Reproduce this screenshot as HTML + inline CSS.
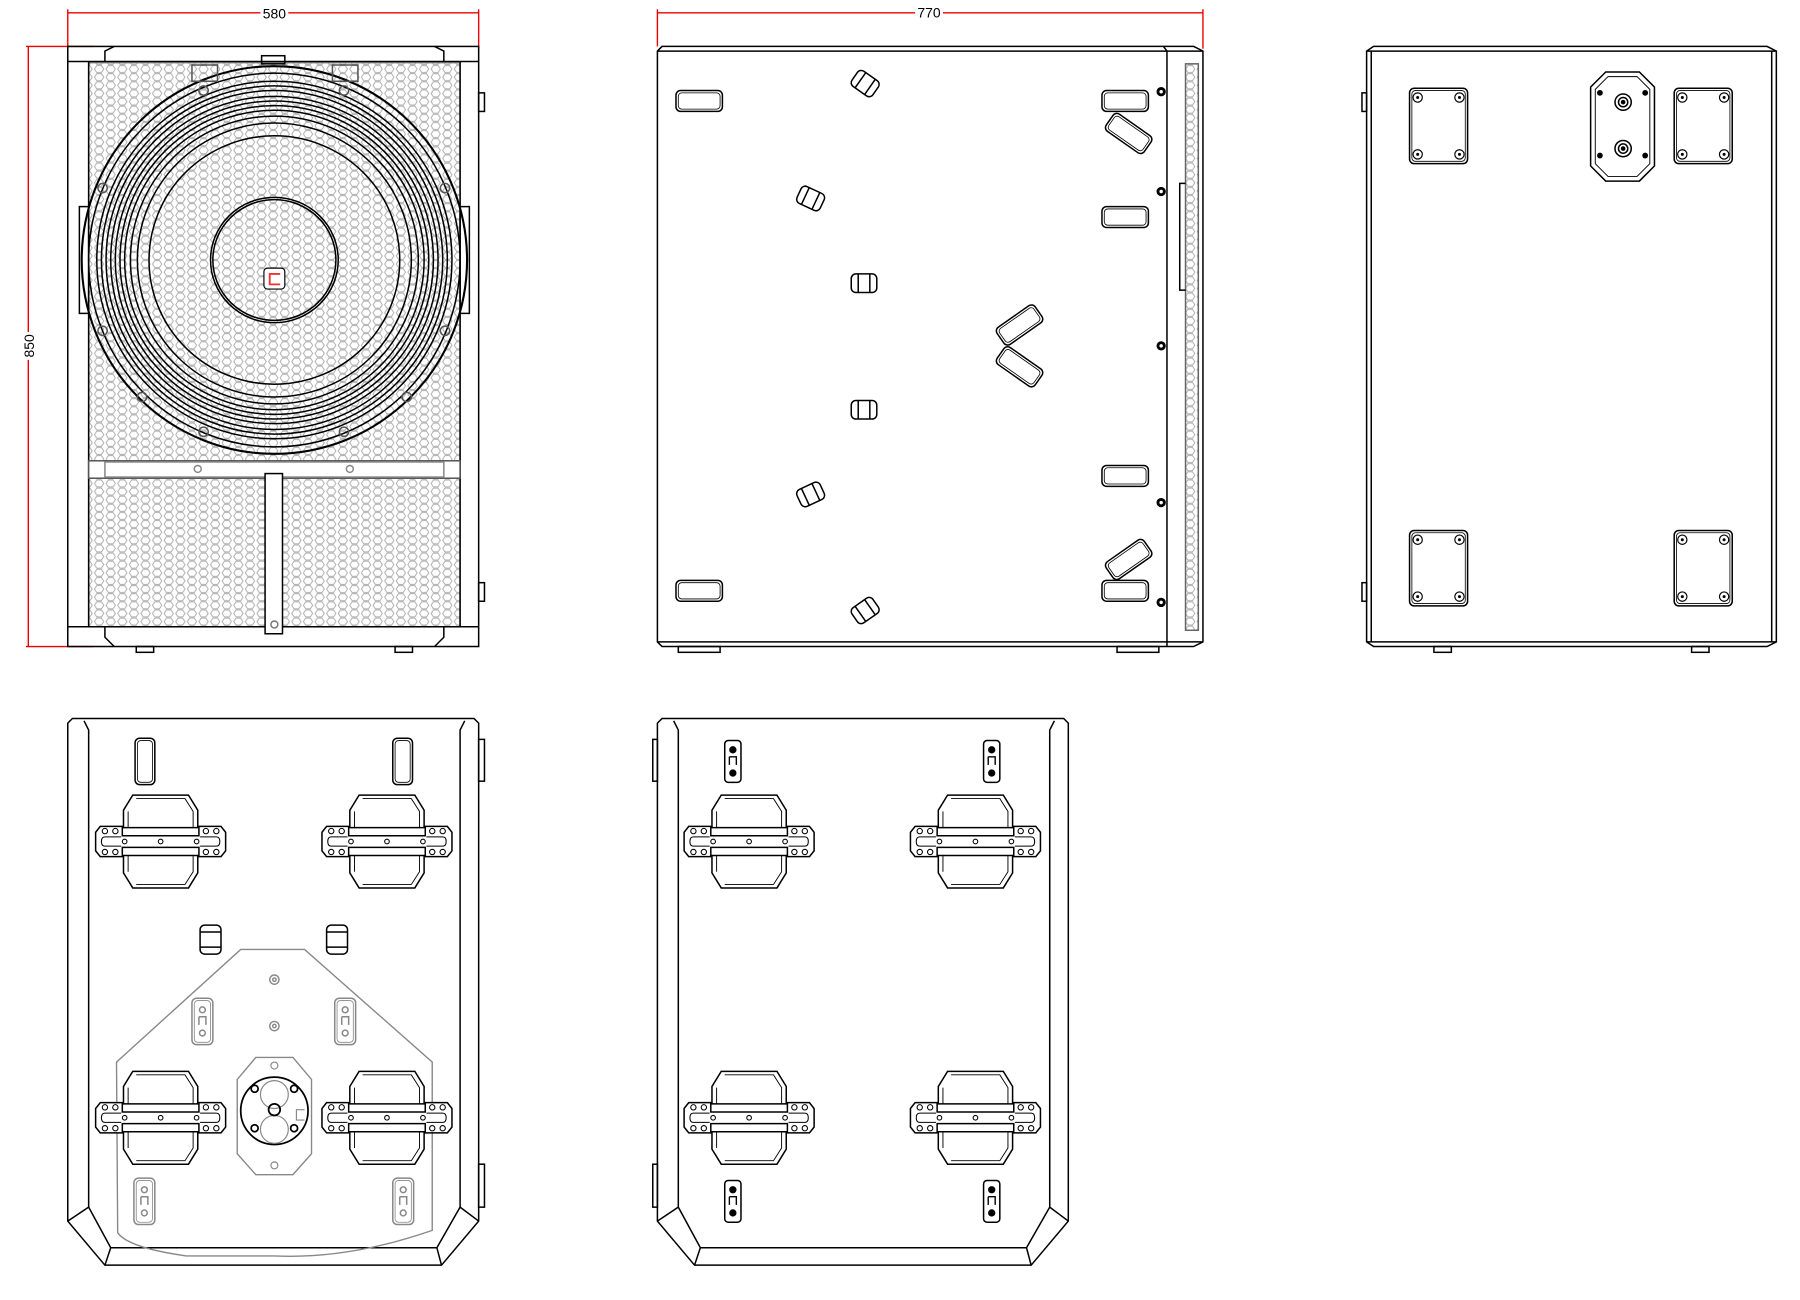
<!DOCTYPE html>
<html><head><meta charset="utf-8"><style>html,body{margin:0;padding:0;background:#fff}svg{display:block}</style></head><body>
<svg width="1800" height="1300" viewBox="0 0 1550 1120" xmlns="http://www.w3.org/2000/svg" font-family="Liberation Sans, sans-serif">
<defs>
<pattern id="hex" width="10" height="7" patternUnits="userSpaceOnUse">
<path d="M1,3.5 L3,0.5 L7,0.5 L9,3.5 L7,6.5 L3,6.5 Z" fill="none" stroke="#aaa" stroke-width="0.8"/>
</pattern>
<g id="plate" fill="#fff" stroke="#000" stroke-width="1.3">
<path d="M-24,-40 L24,-40 L32,-27 L32,-12 L-32,-12 L-32,-27 Z"/><path d="M-21,-37 L21,-37 L28,-26 L28,-12 M-28,-12 L-28,-26 Z" fill="none" stroke-width="0.8"/>
<path d="M-24,40 L24,40 L32,27 L32,12 L-32,12 L-32,27 Z"/><path d="M-21,37 L21,37 L28,26 L28,12 M-28,12 L-28,26 Z" fill="none" stroke-width="0.8"/>
<path d="M-52,-13 L-33,-13 L-33,-5 L33,-5 L33,-13 L52,-13 L56,-8 L56,8 L52,13 L33,13 L33,5 L-33,5 L-33,13 L-52,13 L-56,8 L-56,-8 Z"/>
<path d="M-48,-4 L-34,-4 M-48,-4 Q-51,-4 -51,0 Q-51,4 -48,4 L-34,4 M48,-4 L34,-4 M48,-4 Q51,-4 51,0 Q51,4 48,4 L34,4" fill="none" stroke-width="0.9"/>
<g stroke-width="0.9"><circle cx="-31" cy="0" r="2"/><circle cx="0" cy="0" r="2"/><circle cx="31" cy="0" r="2"/>
<circle cx="-48" cy="-9" r="2.3"/><circle cx="-39" cy="-9" r="2.3"/><circle cx="-48" cy="9" r="2.3"/><circle cx="-39" cy="9" r="2.3"/>
<circle cx="48" cy="-9" r="2.3"/><circle cx="39" cy="-9" r="2.3"/><circle cx="48" cy="9" r="2.3"/><circle cx="39" cy="9" r="2.3"/></g>
</g>
<g id="bplate" fill="#fff" stroke="#000" stroke-width="1.3">
<rect x="-25" y="0" width="50" height="65" rx="4"/><rect x="-23" y="2" width="46" height="61" rx="3" stroke-width="0.7"/>
<g stroke-width="1"><circle cx="-18" cy="8" r="4"/><circle cx="18" cy="8" r="4"/><circle cx="-18" cy="57" r="4"/><circle cx="18" cy="57" r="4"/></g>
<g fill="#000" stroke="none"><circle cx="-18" cy="8" r="1.3"/><circle cx="18" cy="8" r="1.3"/><circle cx="-18" cy="57" r="1.3"/><circle cx="18" cy="57" r="1.3"/></g>
</g>
<g id="hnd" fill="none" stroke="#000" stroke-width="1.3"><rect x="0" y="0" width="40" height="18" rx="4"/><rect x="2" y="2" width="36" height="14" rx="3" stroke-width="0.7"/></g>
<g id="sh" fill="none" stroke="#000" stroke-width="1.3"><rect x="-11" y="-8" width="22" height="16" rx="4"/><line x1="-5" y1="-8" x2="-5" y2="8"/><line x1="5" y1="-8" x2="5" y2="8"/></g>
<g id="lh" fill="none" stroke="#000" stroke-width="1.3"><rect x="-20" y="-9" width="40" height="18" rx="4"/><rect x="-18" y="-7" width="36" height="14" rx="3" stroke-width="0.7"/></g>
<g id="slotb" fill="#fff" stroke="#000" stroke-width="1.3"><rect x="-7" y="-18" width="14" height="36" rx="3"/><circle cx="0" cy="-10" r="2.5" fill="#000"/><circle cx="0" cy="10" r="2.5" fill="#000"/><path d="M-3,-4 L3,-4 L3,3 M-3,-4 L-3,3" fill="none" stroke-width="1.2"/></g>
<g id="slotg" fill="#fff" stroke="#888" stroke-width="1.3"><rect x="-9" y="-20" width="18" height="40" rx="4"/><rect x="-7" y="-18" width="14" height="36" rx="3" stroke-width="0.7"/><circle cx="0" cy="-10" r="2.5"/><circle cx="0" cy="10" r="2.5"/><path d="M-3,-4 L3,-4 L3,3 M-3,-4 L-3,3" fill="none"/></g>
</defs>

<!-- Dimensions -->
<g stroke="#e00" stroke-width="1.2" fill="none">
<line x1="58" y1="11" x2="412" y2="11"/><line x1="58" y1="8" x2="58" y2="40"/><line x1="412" y1="8" x2="412" y2="42"/>
<line x1="24" y1="40" x2="24" y2="557"/><line x1="22" y1="40" x2="80" y2="40"/><line x1="22" y1="557" x2="80" y2="557"/>
<line x1="566" y1="11" x2="1036" y2="11"/><line x1="566" y1="8" x2="566" y2="40"/><line x1="1036" y1="8" x2="1036" y2="42"/>
</g>
<g font-size="12" fill="#000" text-anchor="middle">
<rect x="224" y="4" width="24" height="14" fill="#fff"/><text x="236" y="16">580</text>
<rect x="788" y="4" width="24" height="14" fill="#fff"/><text x="800" y="15">770</text>
<g transform="translate(29,298) rotate(-90)"><rect x="-12" y="-11" width="24" height="13" fill="#fff"/><text x="0" y="0">850</text></g>
</g>

<!-- FRONT VIEW -->
<g fill="none" stroke="#000" stroke-width="1.3">
<rect x="76" y="54" width="320" height="486" fill="url(#hex)" stroke="#888"/>
<rect x="58" y="40" width="354" height="517"/>
<line x1="58" y1="53" x2="412" y2="53"/><line x1="58" y1="540" x2="412" y2="540"/>
<line x1="76" y1="53" x2="76" y2="540"/><line x1="396" y1="53" x2="396" y2="540"/>
<path d="M90,53 L90,44 L98,40 M382,53 L382,44 L374,40 M90,540 L90,549 L98,557 M382,540 L382,549 L374,557"/>
<rect x="225" y="48" width="20" height="7"/>
<rect x="412" y="80" width="5" height="16"/><rect x="412" y="502" width="5" height="16"/>
<rect x="117" y="557" width="15" height="5"/><rect x="340" y="557" width="15" height="5"/>
<rect x="68" y="178" width="8" height="92"/><rect x="396" y="178" width="8" height="92"/>
<g fill="#fff"><rect x="76" y="397" width="320" height="15" stroke="#555"/></g>
<rect x="90" y="398" width="292" height="13" stroke="#888"/>
<rect x="228" y="408" width="15" height="138" fill="#fff"/>
<circle cx="236" cy="538" r="3" stroke="#777"/>
<circle cx="170" cy="404" r="3" stroke="#888"/><circle cx="301" cy="404" r="3" stroke="#888"/>
<ellipse cx="236" cy="224" rx="166" ry="167" stroke-width="1.8"/>
<ellipse cx="236" cy="224" rx="160" ry="161"/>
<ellipse cx="236" cy="224" rx="153" ry="154"/>
<ellipse cx="236" cy="224" rx="149" ry="150"/>
<ellipse cx="236" cy="224" rx="145" ry="146"/>
<ellipse cx="236" cy="224" rx="141" ry="141"/>
<ellipse cx="236" cy="224" rx="137" ry="137"/>
<ellipse cx="236" cy="224" rx="133" ry="133"/>
<ellipse cx="236" cy="224" rx="129" ry="129"/>
<ellipse cx="236" cy="224" rx="124" ry="124"/>
<ellipse cx="236" cy="224" rx="118" ry="118"/>
<ellipse cx="236" cy="224" rx="108" ry="107"/>
<ellipse cx="236" cy="224" rx="55" ry="54"/>
<ellipse cx="236" cy="224" rx="53" ry="52"/>
<rect x="165" y="56" width="22" height="14" stroke="#555"/><rect x="286" y="56" width="22" height="14" stroke="#555"/>
<g stroke="#555"><circle cx="175" cy="78" r="4"/><circle cx="296" cy="78" r="4"/><circle cx="175" cy="372" r="4"/><circle cx="296" cy="372" r="4"/><circle cx="122" cy="342" r="4"/><circle cx="350" cy="342" r="4"/><circle cx="88" cy="162" r="4"/><circle cx="383" cy="162" r="4"/><circle cx="88" cy="285" r="4"/><circle cx="383" cy="285" r="4"/></g>
</g>
<rect x="227" y="231" width="18" height="18" rx="3" fill="#fff" stroke="#000" stroke-width="1"/>
<path d="M241,236 L232,236 L232,245 L241,245" fill="none" stroke="#e33" stroke-width="1.6"/>

<!-- SIDE VIEW -->
<g fill="none" stroke="#000" stroke-width="1.3">
<path d="M566,44 L570,40 L1028,40 L1036,44 L1036,553 L1028,557 L570,557 L566,553 Z"/>
<line x1="566" y1="44" x2="1036" y2="44"/><line x1="566" y1="553" x2="1036" y2="553"/>
<line x1="1005" y1="44" x2="1005" y2="557"/><line x1="1002" y1="40" x2="1005" y2="44"/>
<rect x="1021" y="55" width="11" height="488" fill="url(#hex)" stroke="#666"/>
<path d="M1021,158 L1016,158 L1016,250 L1021,250" />
<rect x="584" y="557" width="36" height="5"/><rect x="962" y="557" width="36" height="5"/>
</g>
<use href="#hnd" x="582" y="78"/><use href="#hnd" x="949" y="78"/><use href="#hnd" x="949" y="178"/><use href="#hnd" x="949" y="401"/><use href="#hnd" x="582" y="500"/><use href="#hnd" x="949" y="500"/>
<use href="#sh" transform="translate(745,72) rotate(35)"/><use href="#sh" transform="translate(698,171) rotate(25)"/><use href="#sh" transform="translate(698,426) rotate(-25)"/><use href="#sh" transform="translate(745,526) rotate(-35)"/>
<use href="#sh" transform="translate(744,244)"/><use href="#sh" transform="translate(744,353)"/>
<use href="#lh" transform="translate(972,115) rotate(35)"/><use href="#lh" transform="translate(972,482) rotate(-35)"/><use href="#lh" transform="translate(878,280) rotate(-35)"/><use href="#lh" transform="translate(878,316) rotate(35)"/>
<g fill="#000"><circle cx="1000" cy="79" r="4"/><circle cx="1000" cy="165" r="4"/><circle cx="1000" cy="298" r="4"/><circle cx="1000" cy="433" r="4"/><circle cx="1000" cy="519" r="4"/></g>
<g fill="#fff"><circle cx="1000" cy="79" r="1.5"/><circle cx="1000" cy="165" r="1.5"/><circle cx="1000" cy="298" r="1.5"/><circle cx="1000" cy="433" r="1.5"/><circle cx="1000" cy="519" r="1.5"/></g>

<!-- BACK VIEW -->
<g fill="none" stroke="#000" stroke-width="1.3">
<path d="M1177,44 L1183,40 L1522,40 L1530,44 L1530,553 L1522,557 L1183,557 L1177,553 Z"/>
<line x1="1177" y1="44" x2="1530" y2="44"/><line x1="1177" y1="553" x2="1530" y2="553"/><line x1="1181" y1="44" x2="1181" y2="553"/><line x1="1526" y1="44" x2="1526" y2="553"/>
<rect x="1173" y="80" width="4" height="16"/><rect x="1173" y="502" width="4" height="16"/>
<rect x="1235" y="557" width="15" height="5"/><rect x="1457" y="557" width="15" height="5"/>
<path d="M1383,62 L1412,62 L1425,75 L1425,143 L1412,156 L1383,156 L1370,143 L1370,75 Z"/>
<path d="M1385,66 L1410,66 L1421,77 L1421,141 L1410,152 L1385,152 L1374,141 L1374,77 Z" stroke-width="0.8"/>
<circle cx="1398" cy="88" r="7"/><circle cx="1398" cy="88" r="4"/><circle cx="1398" cy="128" r="7"/><circle cx="1398" cy="128" r="4"/>
</g>
<g fill="#000"><circle cx="1378" cy="80" r="2.5"/><circle cx="1417" cy="80" r="2.5"/><circle cx="1378" cy="134" r="2.5"/><circle cx="1417" cy="134" r="2.5"/><circle cx="1398" cy="88" r="2"/><circle cx="1398" cy="128" r="2"/></g>
<use href="#bplate" x="1239" y="76"/><use href="#bplate" x="1467" y="76"/><use href="#bplate" x="1239" y="457"/><use href="#bplate" x="1467" y="457"/>

<!-- BOTTOM-LEFT VIEW -->
<g fill="none" stroke="#000" stroke-width="1.3">
<path d="M62,619 L408,619 L412,623 L412,1052 L380,1090 L90,1090 L58,1052 L58,623 Z"/>
<path d="M76,1040 L76,629 L72,621 M396,1040 L396,629 L400,621"/>
<path d="M58,1052 L76,1040 L95,1075 L376,1075 L396,1040 L412,1052 M95,1075 L90,1090 M376,1075 L380,1090"/>
<rect x="412" y="637" width="5" height="36"/><rect x="412" y="1003" width="5" height="37"/>
<rect x="116" y="636" width="17" height="40" rx="4"/><rect x="118" y="638" width="13" height="36" rx="3" stroke-width="0.7"/>
<rect x="338" y="636" width="17" height="40" rx="4"/><rect x="340" y="638" width="13" height="36" rx="3" stroke-width="0.7"/>
<rect x="172" y="797" width="18" height="25" rx="4"/><line x1="172" y1="803" x2="190" y2="803"/><line x1="172" y1="816" x2="190" y2="816"/>
<rect x="281" y="797" width="18" height="25" rx="4"/><line x1="281" y1="803" x2="299" y2="803"/><line x1="281" y1="816" x2="299" y2="816"/>
</g>
<g fill="none" stroke="#888" stroke-width="1.2">
<path d="M207,818 L262,818 L372,915 L372,1060 Q300,1085 236,1082 L160,1082 Q110,1075 101,1062 L100,915 Z"/>
<circle cx="236" cy="844" r="4"/><circle cx="236" cy="844" r="1.5"/><circle cx="236" cy="884" r="4"/><circle cx="236" cy="884" r="1.5"/>
<circle cx="125" cy="998" r="4"/><circle cx="346" cy="998" r="4"/>
</g>
<use href="#slotg" transform="translate(174,880)"/><use href="#slotg" transform="translate(297,880)"/><use href="#slotg" transform="translate(124,1035)"/><use href="#slotg" transform="translate(347,1035)"/>
<use href="#plate" transform="translate(138,725)"/><use href="#plate" transform="translate(333,725)"/><use href="#plate" transform="translate(138,963)"/><use href="#plate" transform="translate(333,963)"/>
<g fill="#fff" stroke="#888" stroke-width="1.2">
<path d="M220,911 L252,911 L268,930 L268,994 L252,1012 L220,1012 L204,994 L204,930 Z"/>
</g>
<g fill="none" stroke="#000" stroke-width="1.5">
<circle cx="236" cy="957" r="29"/>
<circle cx="236" cy="943" r="12" stroke="#888" stroke-width="1"/><circle cx="236" cy="973" r="12" stroke="#888" stroke-width="1"/>
<circle cx="236" cy="956" r="5"/>
<circle cx="219" cy="938" r="3"/><circle cx="253" cy="938" r="3"/><circle cx="219" cy="972" r="3"/><circle cx="253" cy="972" r="3"/>
<path d="M262,956 L255,956 L255,965 L262,965" stroke="#888" stroke-width="1"/>
</g>
<g fill="none" stroke="#888" stroke-width="1"><circle cx="236" cy="918" r="3"/><circle cx="236" cy="1004" r="3"/></g>

<!-- BOTTOM-RIGHT VIEW -->
<g fill="none" stroke="#000" stroke-width="1.3">
<path d="M570,619 L916,619 L920,623 L920,1052 L888,1090 L598,1090 L566,1052 L566,623 Z"/>
<path d="M584,1040 L584,629 L580,621 M904,1040 L904,629 L908,621"/>
<path d="M566,1052 L584,1040 L603,1075 L884,1075 L904,1040 L920,1052 M603,1075 L598,1090 M884,1075 L888,1090"/>
<rect x="562" y="637" width="4" height="36"/><rect x="562" y="1003" width="4" height="37"/>
</g>
<use href="#slotb" transform="translate(631,656)"/><use href="#slotb" transform="translate(854,656)"/><use href="#slotb" transform="translate(631,1035)"/><use href="#slotb" transform="translate(854,1035)"/>
<use href="#plate" transform="translate(645,725)"/><use href="#plate" transform="translate(840,725)"/><use href="#plate" transform="translate(645,963)"/><use href="#plate" transform="translate(840,963)"/>
</svg>
</body></html>
